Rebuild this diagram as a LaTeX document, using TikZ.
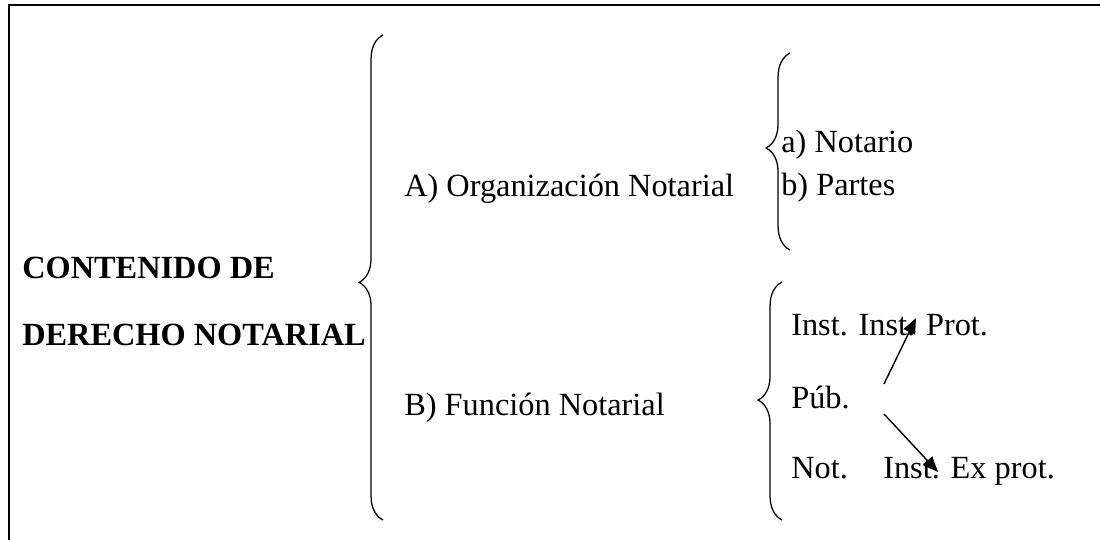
\documentclass[tikz,border=0pt]{standalone}
\usepackage{fontspec}
\setmainfont{Liberation Serif}
\usetikzlibrary{arrows.meta}
\usetikzlibrary{decorations.pathreplacing}
\usetikzlibrary{positioning}

\tikzset{
  entry/.style={anchor=base west, inner sep=0pt, font=\fontsize{23}{27}\selectfont},
  heading/.style={entry, font=\fontsize{23}{27}\selectfont\bfseries},
  curly/.style={decorate, decoration={brace, amplitude=17pt, aspect=#1}, line width=0.9pt},
  link/.style={-{Triangle[length=11pt,width=9pt]}, line width=1pt},
}

\begin{document}
\begin{tikzpicture}[x=0.025cm, y=-0.025cm]
  \useasboundingbox (0,0) rectangle (1100,540);
  \draw[line width=1.8pt] (9,540) -- (9,5) -- (1100,5);

  % left title
  \node[heading] (cont) at (22,278) {CONTENIDO DE};
  \node[heading] (dere) at (22,345) {DERECHO NOTARIAL};
  \draw[curly=0.49] (383,520) -- (383,35);

  % A) branch
  \node[entry] (org) at (404,196) {A) Organización Notarial};
  \draw[curly=0.518] (790,250) -- (790,53);
  \node[entry] (nota) at (781,152) {a) Notario};
  \node[entry] (part) at (781,195) {b) Partes};

  % B) branch
  \node[entry] (func) at (404,415) {B) Función Notarial};
  \draw[curly=0.504] (782,520) -- (782,282);
  \node[entry] (inst) at (791,335) {Inst. Inst. Prot.};
  \node[entry] (pub) at (791,408) {Púb.};
  \node[entry] (not) at (791,478) {Not.};
  \node[entry] (expr) at (883,478) {Inst. Ex prot.};

  \coordinate (up0) at (884,384);
  \coordinate (up1) at (916,318);
  \coordinate (dn0) at (884,414);
  \coordinate (dn1) at (938,472);
  \draw[link] (up0) -- (up1);
  \draw[link] (dn0) -- (dn1);
\end{tikzpicture}
\end{document}
